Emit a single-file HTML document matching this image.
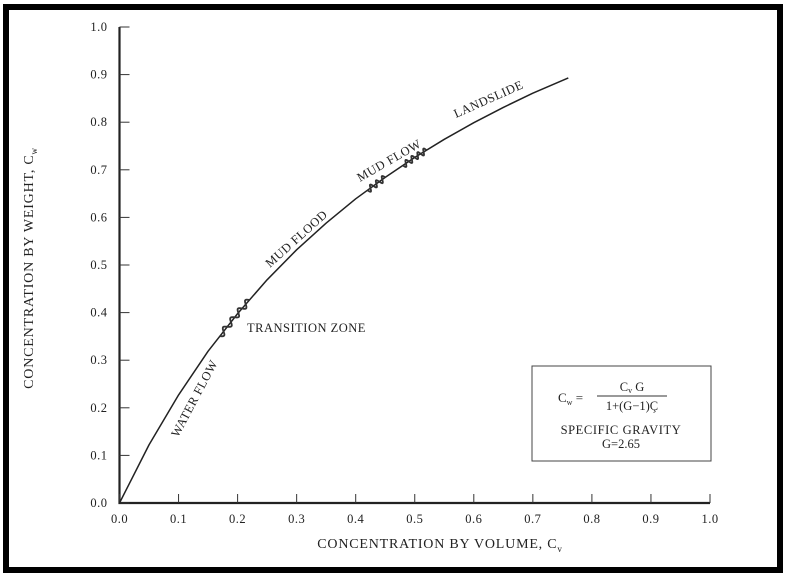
<!DOCTYPE html>
<html><head><meta charset="utf-8"><style>
html,body{margin:0;padding:0;background:#fff;}
svg{display:block;}
text{font-family:"Liberation Serif",serif;fill:#222;}
</style></head><body>
<svg id="chart" width="786" height="576" viewBox="0 0 786 576">
<rect x="6" y="7" width="774" height="563" fill="none" stroke="#000" stroke-width="6"/>
<g id="axes"></g>
<g id="plot"></g>
<text x="440" y="548" font-size="14" text-anchor="middle" letter-spacing="0.8">CONCENTRATION BY VOLUME, C<tspan font-size="9" dy="4">v</tspan></text>
<text transform="translate(33,268) rotate(-90)" font-size="14" text-anchor="middle" letter-spacing="0.8">CONCENTRATION BY WEIGHT, C<tspan font-size="9" dy="4">w</tspan></text>
<text transform="translate(178,438) rotate(-62)" font-size="12.5" letter-spacing="0.5">WATER FLOW</text>
<text x="247" y="332" font-size="12.5" letter-spacing="0.5">TRANSITION ZONE</text>
<text transform="translate(270,268) rotate(-42)" font-size="12.5" letter-spacing="0.5">MUD FLOOD</text>
<text transform="translate(360,182) rotate(-30)" font-size="12.5" letter-spacing="0.5">MUD FLOW</text>
<text transform="translate(456,118) rotate(-24)" font-size="12.5" letter-spacing="0.5">LANDSLIDE</text>
<g>
<rect x="532" y="366" width="179" height="95" fill="none" stroke="#444" stroke-width="1"/>
<text x="558" y="402" font-size="13">C<tspan font-size="8" dy="3">w</tspan><tspan dy="-3"> =</tspan></text>
<text x="632" y="391" font-size="12.5" text-anchor="middle">C<tspan font-size="8" dy="2">v</tspan><tspan dy="-2"> G</tspan></text>
<line x1="597" y1="396" x2="667" y2="396" stroke="#333" stroke-width="1"/>
<text x="632" y="410" font-size="12.5" text-anchor="middle">1+(G−1)Ç</text>
<text x="621" y="434" font-size="12.5" text-anchor="middle" letter-spacing="0.6">SPECIFIC  GRAVITY</text>
<text x="621" y="448" font-size="12.5" text-anchor="middle">G=2.65</text>
</g>
</svg>
<script>
const cvValues=[0,0.05,0.1,0.15,0.2,0.25,0.3,0.35,0.4,0.45,0.5,0.55,0.6,0.65,0.7,0.76];
const cwValues=[0,0.122,0.227,0.319,0.398,0.469,0.532,0.588,0.639,0.684,0.726,0.764,0.799,0.831,0.861,0.893];
const xTicks=[0,0.1,0.2,0.3,0.4,0.5,0.6,0.7,0.8,0.9,1.0];
const yTicks=[0,0.1,0.2,0.3,0.4,0.5,0.6,0.7,0.8,0.9,1.0];
const wavyRanges=[[0.17,0.22],[0.42,0.45],[0.48,0.52]];
const NS="http://www.w3.org/2000/svg";
const X0=119.5,X1=710,Y0=503,Y1=27;
const sx=v=>X0+(X1-X0)*v;
const sy=v=>Y0-(Y0-Y1)*v;
function interp(c){
  for(let i=0;i<cvValues.length-1;i++){
    if(c<=cvValues[i+1]){const t=(c-cvValues[i])/(cvValues[i+1]-cvValues[i]);return cwValues[i]+t*(cwValues[i+1]-cwValues[i]);}
  }
  return cwValues[cwValues.length-1];
}
const axes=document.getElementById('axes');
const plot=document.getElementById('plot');
function mk(tag,attrs,parent){const e=document.createElementNS(NS,tag);for(const k in attrs)e.setAttribute(k,attrs[k]);parent.appendChild(e);return e;}
let e=mk('path',{d:`M${sx(0)},${sy(1)} L${sx(0)},${sy(0)} L${sx(1)},${sy(0)}`,fill:'none',stroke:'#222','stroke-width':2.2},axes);


xTicks.forEach(t=>{
  const l=mk('line',{x1:sx(t),x2:sx(t),y1:sy(0),y2:sy(0)-9,stroke:'#333','stroke-width':1},axes);
  
  
  const tx=mk('text',{x:sx(t),y:sy(0)+20,'font-size':12.5,'text-anchor':'middle','letter-spacing':0.5},axes);
  tx.textContent=t.toFixed(1);
  
  
});
yTicks.forEach(t=>{
  const l=mk('line',{x1:sx(0),x2:sx(0)+10,y1:sy(t),y2:sy(t),stroke:'#333','stroke-width':1},axes);
  
  
  const tx=mk('text',{x:sx(0)-12,y:sy(t)+4,'font-size':12.5,'text-anchor':'end','letter-spacing':0.5},axes);
  tx.textContent=t.toFixed(1);
  
  
});
let d='';
cvValues.forEach((c,i)=>{d+=(i?'L':'M')+sx(c).toFixed(1)+','+sy(cwValues[i]).toFixed(1);});
const curve=mk('path',{d:d,fill:'none',stroke:'#222','stroke-width':1.5,'stroke-linejoin':'round'},plot);


wavyRanges.forEach(r=>{
  let p='';const n=200;
  const cycles=Math.round((r[1]-r[0])*90);
  for(let i=0;i<=n;i++){
    const c=r[0]+(r[1]-r[0])*i/n;
    const x=sx(c),y=sy(interp(c));
    const c2=c+0.002,dx=sx(c2)-x,dy=sy(interp(c2))-y,L=Math.hypot(dx,dy);
    const a=3*Math.sin(i/n*Math.PI*2*cycles);
    p+=(i?'L':'M')+(x-dy/L*a).toFixed(1)+','+(y+dx/L*a).toFixed(1);
  }
  const w=mk('path',{d:p,fill:'none',stroke:'#333','stroke-width':1.8,'stroke-linejoin':'round'},plot);
  
  
});
</script>
</body></html>
